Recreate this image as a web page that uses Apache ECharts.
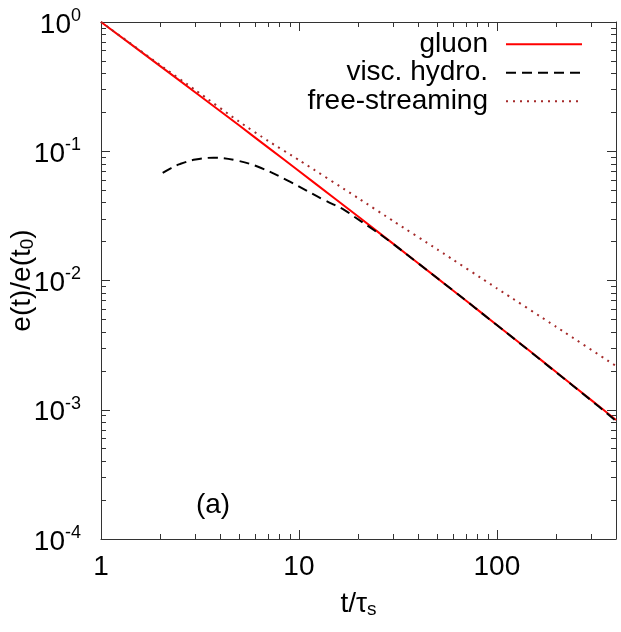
<!DOCTYPE html>
<html>
<head>
<meta charset="utf-8">
<script src="https://cdn.jsdelivr.net/npm/echarts@6/dist/echarts.min.js"></script>
<style>
  html, body { margin: 0; padding: 0; background: #fff; }
  #chart { width: 621px; height: 632px; }
</style>
</head>
<body>
<div id="chart"></div>
<script>
// gluon (solid red)
var gluonT = [1, 2, 3, 5, 7, 10, 15, 20, 30, 50, 70, 100, 150, 200, 300, 400];
var gluonE = [1, 0.454, 0.285, 0.158, 0.1067, 0.0703, 0.0437, 0.0311, 0.0192, 0.01043, 0.00697, 0.00453, 0.00277, 0.00195, 0.001187, 0.000834];

// viscous hydro (dashed black)
var hydroT = [2.05, 2.25, 2.5, 3, 3.7, 4.9, 6.4, 9, 13.4, 17, 19, 24, 29, 40, 60, 100, 150, 200, 300, 400];
var hydroE = [0.068, 0.0738, 0.0795, 0.0862, 0.0891, 0.0845, 0.0745, 0.0581, 0.042, 0.0351, 0.0312, 0.0245, 0.0199, 0.0136, 0.00839, 0.00452, 0.00276, 0.00194, 0.00118, 0.00082];

// free-streaming (dotted)
var freeT = [1, 2, 3, 5, 7, 10, 20, 30, 50, 100, 200, 400];
var freeE = [1, 0.462, 0.297, 0.169, 0.120, 0.0855, 0.0432, 0.0288, 0.0174, 0.0087, 0.00437, 0.00218];

var xMajor = [1, 10, 100];
var xMinor = [2, 3, 4, 5, 6, 7, 8, 9, 20, 30, 40, 50, 60, 70, 80, 90, 200, 300, 400];
var yMajor = [0.0001, 0.001, 0.01, 0.1, 1];
var yMinor = [];
[0.0001, 0.001, 0.01, 0.1].forEach(function (d) {
  for (var k = 2; k <= 9; k++) yMinor.push(+(d * k).toPrecision(3));
});

function pairs(xs, ys) {
  return xs.map(function (x, i) { return [x, ys[i]]; });
}

var FONT = 'Liberation Sans, Arial, sans-serif';
var AX = '#333';

var chart = echarts.init(document.getElementById('chart'));

function xAx(pos, ticks, len, main) {
  return {
    type: 'log', logBase: 10, min: 1, max: 400, position: pos,
    axisLine: { show: main, lineStyle: { color: AX, width: 1 } },
    axisTick: { show: true, inside: true, length: len, customValues: ticks, lineStyle: { color: AX } },
    axisLabel: { show: false },
    splitLine: { show: false }, minorTick: { show: false }
  };
}
function yAx(pos, ticks, len, main) {
  return {
    type: 'log', logBase: 10, min: 0.0001, max: 1, position: pos,
    axisLine: { show: main, lineStyle: { color: AX, width: 1 } },
    axisTick: { show: true, inside: true, length: len, customValues: ticks, lineStyle: { color: AX } },
    axisLabel: { show: false },
    splitLine: { show: false }, minorTick: { show: false }
  };
}

var xMain = xAx('bottom', xMajor, 9, true);
xMain.axisLabel = {
  show: true, customValues: xMajor, margin: 14,
  fontFamily: FONT, fontSize: 28, color: '#000',
  formatter: function (v) { return String(Math.round(v)); }
};
xMain.name = '{m|t/τ}{s|s}';
xMain.nameLocation = 'middle';
xMain.nameGap = 50;
xMain.nameTextStyle = {
  fontFamily: FONT, color: '#000',
  rich: {
    m: { fontSize: 28, lineHeight: 30, fontFamily: FONT },
    s: { fontSize: 19, lineHeight: 8, verticalAlign: 'bottom', fontFamily: FONT }
  }
};

var yMain = yAx('left', yMajor, 9, true);
yMain.axisLabel = {
  show: true, customValues: yMajor, margin: 20,
  fontFamily: FONT, color: '#000',
  formatter: function (v) {
    var e = Math.round(Math.log10(v));
    return '{b|10}{p|' + e + '}';
  },
  rich: {
    b: { fontSize: 28, lineHeight: 30, fontFamily: FONT, padding: [6, 0, 0, 0] },
    p: { fontSize: 18, lineHeight: 16, verticalAlign: 'top', fontFamily: FONT }
  }
};
yMain.name = '{m|e(t)/e(t}{s|0}{m|)}';
yMain.nameLocation = 'middle';
yMain.nameGap = 64;
yMain.nameMoveOverlap = false;
yMain.nameTextStyle = {
  fontFamily: FONT, color: '#000',
  rich: {
    m: { fontSize: 28, lineHeight: 30, fontFamily: FONT },
    s: { fontSize: 19, lineHeight: 8, verticalAlign: 'bottom', fontFamily: FONT }
  }
};

var option = {
  animation: false,
  backgroundColor: '#fff',
  grid: { left: 101, right: 5, top: 22, bottom: 93, containLabel: false, outerBoundsMode: 'none' },
  xAxis: [
    xMain,
    xAx('bottom', xMinor, 5, false),
    xAx('top', xMajor, 9, true),
    xAx('top', xMinor, 5, false)
  ],
  yAxis: [
    yMain,
    yAx('left', yMinor, 5, false),
    yAx('right', yMajor, 9, true),
    yAx('right', yMinor, 5, false)
  ],
  legend: {
    orient: 'vertical',
    right: 33, top: 25,
    align: 'right',
    itemWidth: 76, itemHeight: 2, itemGap: 0,
    itemStyle: { opacity: 0 },
    data: ['gluon', 'visc. hydro.', 'free-streaming'],
    textStyle: { fontFamily: FONT, fontSize: 28, lineHeight: 28.5, color: '#000', padding: [0, 13, 0, 0] }
  },
  graphic: [{
    type: 'text',
    x: 213, y: 505,
    style: { text: '(a)', font: '28px ' + FONT, fill: '#000', textAlign: 'center', textVerticalAlign: 'middle' }
  }],
  series: [
    {
      name: 'gluon', type: 'line', symbol: 'none', smooth: 0.2,
      xAxisIndex: 0, yAxisIndex: 0,
      lineStyle: { color: '#ff0000', width: 2 },
      itemStyle: { color: '#ff0000' },
      data: pairs(gluonT, gluonE)
    },
    {
      name: 'visc. hydro.', type: 'line', symbol: 'none', smooth: 0.4,
      xAxisIndex: 0, yAxisIndex: 0,
      lineStyle: { color: '#000', width: 2, type: [10, 6] },
      itemStyle: { color: '#000' },
      data: pairs(hydroT, hydroE)
    },
    {
      name: 'free-streaming', type: 'line', symbol: 'none', smooth: 0.2,
      xAxisIndex: 0, yAxisIndex: 0,
      lineStyle: { color: '#a52a2a', width: 2, type: [2, 5] },
      itemStyle: { color: '#a52a2a' },
      data: pairs(freeT, freeE)
    }
  ]
};

chart.setOption(option);
</script>
</body>
</html>
